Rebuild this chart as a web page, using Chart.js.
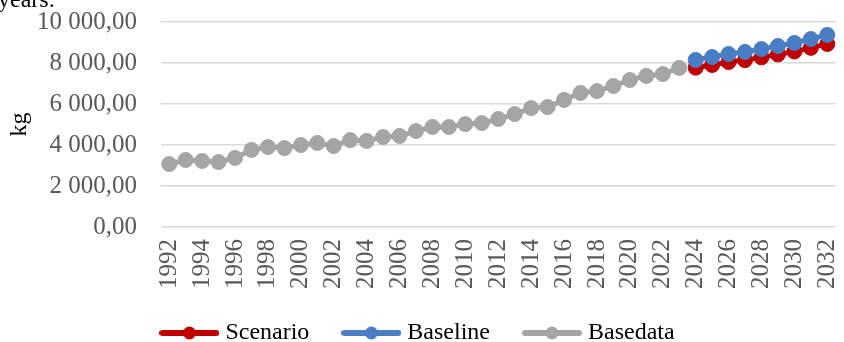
<!DOCTYPE html>
<html>
<head>
<meta charset="utf-8">
<script src="https://cdn.jsdelivr.net/npm/chart.js@4.4.1/dist/chart.umd.min.js"></script>
<style>
  body { margin: 0; background: #fff; }
  #wrap { position: relative; width: 844px; height: 342px; overflow: hidden; }
  #cut { position: absolute; left: -2px; top: -13px; font: 24px "Liberation Serif", serif; line-height: 24px; color: #000; }
  canvas { position: absolute; left: 0; top: 0; }
</style>
</head>
<body>
<div id="wrap">
  <canvas id="chart" width="844" height="342"></canvas>
  <div id="cut">years.</div>
</div>
<script>
const years = [];
for (let y = 1992; y <= 2032; y++) years.push(String(y));

// 1992 - 2023
const basedata = [3070, 3270, 3220, 3170, 3370, 3760, 3900, 3850, 4000, 4100,
  3950, 4240, 4200, 4390, 4440, 4680, 4880, 4880, 5020, 5070,
  5270, 5510, 5800, 5850, 6200, 6540, 6630, 6880, 7170, 7370,
  7460, 7760];
// 2024 - 2032
const baseline = [8150, 8290, 8440, 8540, 8680, 8830, 8980, 9170, 9370];
const scenario = [7770, 7905, 8050, 8140, 8275, 8420, 8560, 8740, 8930];

const yTicks = [0, 2000, 4000, 6000, 8000, 10000];

const RED = '#C00000', BLUE = '#4A7EC4', GREY = '#A5A5A5';

function pad(arr, before) {
  const out = new Array(before).fill(null);
  return out.concat(arr, new Array(years.length - before - arr.length).fill(null));
}

function fmt(v) {
  const [i, d] = v.toFixed(2).split('.');
  return i.replace(/\B(?=(\d{3})+(?!\d))/g, ' ') + ',' + d;
}

function legendIcon(color) {
  const c = document.createElement('canvas');
  c.width = 60; c.height = 14;
  const g = c.getContext('2d');
  g.strokeStyle = color; g.lineWidth = 6; g.lineCap = 'round';
  g.beginPath(); g.moveTo(3, 7); g.lineTo(57, 7); g.stroke();
  g.fillStyle = color;
  g.beginPath(); g.arc(30, 7, 6.5, 0, Math.PI * 2); g.fill();
  return c;
}
const icons = [legendIcon(RED), legendIcon(BLUE), legendIcon(GREY)];

// legend: fixed box height, row placed near the bottom edge
const legendTweak = {
  id: 'legendTweak',
  afterInit(chart) {
    const lg = chart.legend;
    const fit = lg.fit;
    lg.fit = function () { fit.call(this); this.height = 45; };
  },
  afterLayout(chart) {
    chart.legend.top = 283;
    chart.legend.bottom = 342;
  }
};

const ctx = document.getElementById('chart').getContext('2d');
new Chart(ctx, {
  type: 'line',
  data: {
    labels: years,
    datasets: [
      { label: 'Scenario', data: pad(scenario, 32), borderColor: RED, backgroundColor: RED, order: 3 },
      { label: 'Baseline', data: pad(baseline, 32), borderColor: BLUE, backgroundColor: BLUE, order: 1 },
      { label: 'Basedata', data: pad(basedata, 0), borderColor: GREY, backgroundColor: GREY, order: 2 }
    ]
  },
  options: {
    responsive: false,
    animation: false,
    devicePixelRatio: 1,
    layout: { padding: { top: 22, right: 4, left: 0, bottom: 0 } },
    elements: {
      line: { borderWidth: 5, tension: 0 },
      point: { radius: 7.5, borderWidth: 1, hoverRadius: 7.5 }
    },
    plugins: {
      tooltip: { enabled: false },
      legend: {
        position: 'bottom',
        labels: {
          usePointStyle: true,
          pointStyleWidth: 48,
          padding: 38,
          color: '#000',
          font: { family: 'Liberation Serif', size: 24 },
          sort: (a, b) => a.datasetIndex - b.datasetIndex,
          generateLabels(chart) {
            const items = Chart.defaults.plugins.legend.labels.generateLabels(chart);
            items.forEach(it => { it.pointStyle = icons[it.datasetIndex]; });
            return items;
          }
        }
      }
    },
    scales: {
      x: {
        offset: true,
        grid: { display: false, drawTicks: false },
        border: { display: false },
        ticks: {
          autoSkip: false,
          minRotation: 90,
          maxRotation: 90,
          padding: 12,
          color: '#595959',
          font: { family: 'Liberation Serif', size: 25 },
          callback: (v, i) => (i % 2 === 0 ? years[i] : '')
        },
        afterFit(scale) {
          scale.height = 70;
          scale.paddingLeft = 0;
          scale.paddingRight = 0;
        }
      },
      y: {
        min: 0,
        max: 10000,
        afterBuildTicks(scale) { scale.ticks = yTicks.map(v => ({ value: v })); },
        grid: { color: '#D9D9D9', lineWidth: 1.5, drawTicks: false },
        border: { display: false },
        ticks: {
          padding: 24,
          color: '#595959',
          font: { family: 'Liberation Serif', size: 25 },
          callback: v => fmt(v)
        },
        title: {
          display: true,
          text: 'kg',
          color: '#000',
          padding: { top: 5, bottom: 0 },
          font: { family: 'Liberation Serif', size: 24 }
        },
        afterFit(scale) {
          scale.width = 161;
          scale.paddingTop = 0;
          scale.paddingBottom = 0;
        }
      }
    }
  },
  plugins: [legendTweak]
});
</script>
</body>
</html>
